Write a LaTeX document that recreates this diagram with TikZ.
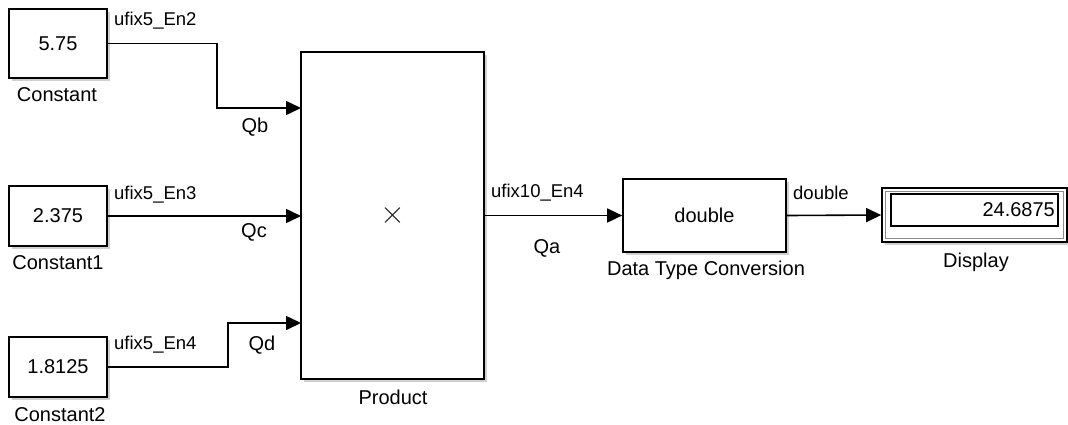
\documentclass[tikz,border=0pt]{standalone}
\usepackage{fontspec}
\setmainfont{Liberation Sans}
\usetikzlibrary{arrows.meta,shadows}
\begin{document}
\begin{tikzpicture}[x=1pt,y=-1pt,
  blk/.style={draw=black, line width=1.7pt, fill=white, rectangle, inner sep=0pt,
    drop shadow={shadow xshift=2.5pt, shadow yshift=-2.5pt, opacity=0.3, fill=black!60},
    font=\fontsize{20}{24}\selectfont},
  wire/.style={line width=1.6pt, -{Triangle[length=15pt,width=14pt]}},
  blabel/.style={font=\fontsize{20}{24}\selectfont, inner sep=0pt},
  wlabel/.style={font=\fontsize{18.5}{22}\selectfont, inner sep=0pt},
  qlabel/.style={font=\fontsize{20}{24}\selectfont, inner sep=0pt}
]
\useasboundingbox[fill=white] (0,0) rectangle (1068,424);

% blocks
\node[blk, minimum width=98pt, minimum height=69pt] (c0) at (58,43.5) {5.75};
\node[blk, minimum width=98pt, minimum height=60pt] (c1) at (58,216) {2.375};
\node[blk, minimum width=98pt, minimum height=60pt] (c2) at (58,367) {1.8125};
\node[blk, minimum width=183pt, minimum height=327pt] (prod) at (392.5,215.5) {};
\node[inner sep=0pt, text=black!85] (times) at (393,215) {\scalebox{3.2}{$\times$}};
\node[blk, minimum width=163pt, minimum height=73pt] (dtc) at (704.5,215.5) {double};
\node[blk, minimum width=185pt, minimum height=54pt] (disp) at (974.5,215) {};
\node[draw=black!45, line width=0.8pt, minimum width=178pt, minimum height=47pt, inner sep=0pt] (dispmid) at (974.5,215) {};
\node[draw=black, line width=1.7pt, minimum width=167pt, minimum height=32pt, inner sep=0pt] (dispin) at (974.5,210) {};
\node[blabel, anchor=east] (dval) at (1055,210) {24.6875};

% block labels
\node[blabel] (lc0) at (57,95) {Constant};
\node[blabel] (lc1) at (58,263) {Constant1};
\node[blabel] (lc2) at (60,415) {Constant2};
\node[blabel] (lprod) at (393,397) {Product};
\node[blabel] (ldtc) at (706,270) {Data Type Conversion};
\node[blabel] (ldisp) at (976,262) {Display};

% input ports
\coordinate (p1) at (301,108);
\coordinate (p2) at (301,216);
\coordinate (p3) at (301,323);
\coordinate (b0) at (217,43.5);
\coordinate (b2) at (228,367);

% wires
\draw[wire] (c0.east) -- (b0) |- (p1);
\draw[wire] (c1.east) -- (p2);
\draw[wire] (c2.east) -- (b2) |- (p3);
\draw[wire] (prod.east |- dtc.west) -- (dtc.west);
\draw[wire] (dtc.east) -- (disp.west);

% wire labels
\node[wlabel, anchor=west] (w0) at (114,21) {ufix5\_En2};
\node[wlabel, anchor=west] (w1) at (114,195) {ufix5\_En3};
\node[wlabel, anchor=west] (w2) at (114,345) {ufix5\_En4};
\node[wlabel, anchor=west] (w3) at (491,193) {ufix10\_En4};
\node[wlabel, anchor=west] (w4) at (793,193) {double};
\node[qlabel] (qb) at (255,127) {Qb};
\node[qlabel] (qc) at (254,232) {Qc};
\node[qlabel] (qd) at (262,345) {Qd};
\node[qlabel] (qa) at (547,248) {Qa};
\end{tikzpicture}
\end{document}
